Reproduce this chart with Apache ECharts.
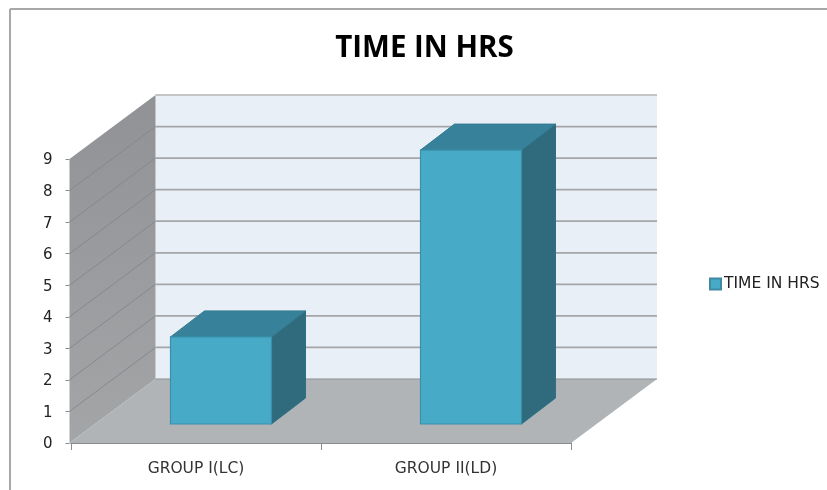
<!DOCTYPE html>
<html>
<head>
<meta charset="utf-8">
<style>
  html, body { margin: 0; padding: 0; background: #fff; }
  #chart { width: 827px; height: 490px; }
</style>
<script src="https://cdn.jsdelivr.net/npm/echarts@6/dist/echarts.min.js"></script>
</head>
<body>
<div id="chart"></div>
<script>
const categories = ["GROUP I(LC)", "GROUP II(LD)"];
const timeInHrs = [2.76, 8.68];
const yTicks = [0, 1, 2, 3, 4, 5, 6, 7, 8, 9];
const seriesName = "TIME IN HRS";

// oblique offset of the back wall and of the bars, in px
const wallDx = 86, wallDy = -64;
const barDx = 34, barDy = -26;
const barShiftX = 25, barShiftY = -19;
const barWidth = 101;

const poly = (points, fill, stroke, lineWidth) => ({
  type: "polygon",
  shape: { points },
  style: { fill, stroke: stroke || "none", lineWidth: lineWidth || 0 },
});
const line = (a, b, stroke, lineWidth) => ({
  type: "line",
  shape: { x1: a[0], y1: a[1], x2: b[0], y2: b[1] },
  style: { stroke, lineWidth },
});

function renderWalls(params, api) {
  const cs = params.coordSys;
  const left = cs.x, right = cs.x + cs.width;
  const maxTick = yTicks[yTicks.length - 1];
  const y0 = api.coord([0, 0])[1], yTop = api.coord([0, maxTick])[1];
  const sx = left - 1.5;
  const bx = left + wallDx - 1.5;
  const kids = [
    // back wall
    poly([[bx, yTop + wallDy], [right + wallDx, yTop + wallDy], [right + wallDx, y0 + wallDy], [bx, y0 + wallDy]], "#e8eff6"),
    // side wall
    poly([[sx, yTop], [bx, yTop + wallDy], [bx, y0 + wallDy], [sx, y0]], {
      type: "linear", x: 0, y: 0, x2: 0, y2: 1,
      colorStops: [{ offset: 0, color: "#909295" }, { offset: 1, color: "#a3a5a7" }],
    }),
    // floor
    poly([[sx, y0], [bx, y0 + wallDy], [right + wallDx, y0 + wallDy], [right, y0]], "#b0b4b7"),
    line([bx, y0 + wallDy], [right + wallDx, y0 + wallDy], "#8d9093", 1.2),
  ];
  yTicks.forEach((t) => {
    const y = api.coord([0, t])[1];
    if (t > 0 && t < maxTick) {
      kids.push(line([sx, y], [bx, y + wallDy], "#86888b", 1));
      kids.push(line([bx, y + wallDy], [right + wallDx, y + wallDy], "#a4a6a7", 1.8));
    }
  });
  kids.push(line([bx, yTop + wallDy], [right + wallDx, yTop + wallDy], "#c2c4c5", 2));
  return { type: "group", children: kids };
}

function renderBar(params, api) {
  const i = api.value(0);
  const base = api.coord([i, 0]);
  const top = api.coord([i, api.value(1)]);
  const l = base[0] + barShiftX - barWidth / 2;
  const r = l + barWidth;
  const b = base[1] + barShiftY;
  const t = top[1] + barShiftY;
  return {
    type: "group",
    children: [
      poly([[r, t], [r + barDx, t + barDy], [r + barDx, b + barDy], [r, b]], "#2f6b7c", "#2f7086", 1),
      poly([[l, t], [l + barDx, t + barDy], [r + barDx, t + barDy], [r, t]], "#37819a", "#317a90", 1),
      poly([[l, t], [r, t], [r, b], [l, b]], "#47abc8", "#3a8fa9", 1.2),
    ],
  };
}

const chart = echarts.init(document.getElementById("chart"), null, { renderer: "canvas" });
chart.setOption({
  animation: false,
  backgroundColor: "#fff",
  title: {
    text: seriesName,
    left: 419.5,
    top: 29,
    textAlign: "center",
    textStyle: { fontFamily: "Open Sans", fontSize: 29.5, fontWeight: "bold", color: "#000" },
  },
  legend: {
    data: [seriesName],
    left: 709,
    top: 276,
    icon: "rect",
    itemWidth: 11,
    itemHeight: 11,
    itemGap: 0,
    padding: 0,
    textStyle: { fontFamily: "DejaVu Sans", fontSize: 15.5, color: "#222", padding: [0, 0, 0, -2] },
  },
  graphic: [
    // picture frame, top and left edges only
    { type: "line", shape: { x1: 10, y1: 9, x2: 827, y2: 9 }, style: { stroke: "#a8a8a8", lineWidth: 2 } },
    { type: "line", shape: { x1: 10, y1: 9, x2: 10, y2: 490 }, style: { stroke: "#a8a8a8", lineWidth: 2 } },
  ],
  grid: { left: 71, right: 256, top: 159, bottom: 47 },
  xAxis: {
    type: "category",
    data: categories,
    axisLine: { lineStyle: { color: "#8a8c8e", width: 2 } },
    axisTick: { show: true, alignWithLabel: false, length: 7, lineStyle: { color: "#8a8c8e" } },
    axisLabel: { fontFamily: "DejaVu Sans", fontSize: 15.5, color: "#333", margin: 18 },
  },
  yAxis: {
    type: "value",
    min: 0,
    max: 9,
    interval: 1,
    offset: 1.5,
    splitLine: { show: false },
    axisLine: { show: false },
    axisTick: { show: true, length: 4, lineStyle: { color: "#8a8c8e" } },
    axisLabel: { fontFamily: "DejaVu Sans", fontSize: 15, color: "#222", margin: 17, verticalAlign: "top", padding: [-6, 0, 0, 0] },
  },
  series: [
    {
      type: "custom",
      silent: true,
      renderItem: renderWalls,
      data: [[0, 0]],
      z: 1,
    },
    {
      name: seriesName,
      type: "custom",
      renderItem: renderBar,
      itemStyle: { color: "#47abc8", borderColor: "#3f8aa3", borderWidth: 1.5 },
      encode: { x: 0, y: 1 },
      data: timeInHrs.map((v, i) => [i, v]),
      z: 3,
    },
  ],
});
</script>
</body>
</html>
